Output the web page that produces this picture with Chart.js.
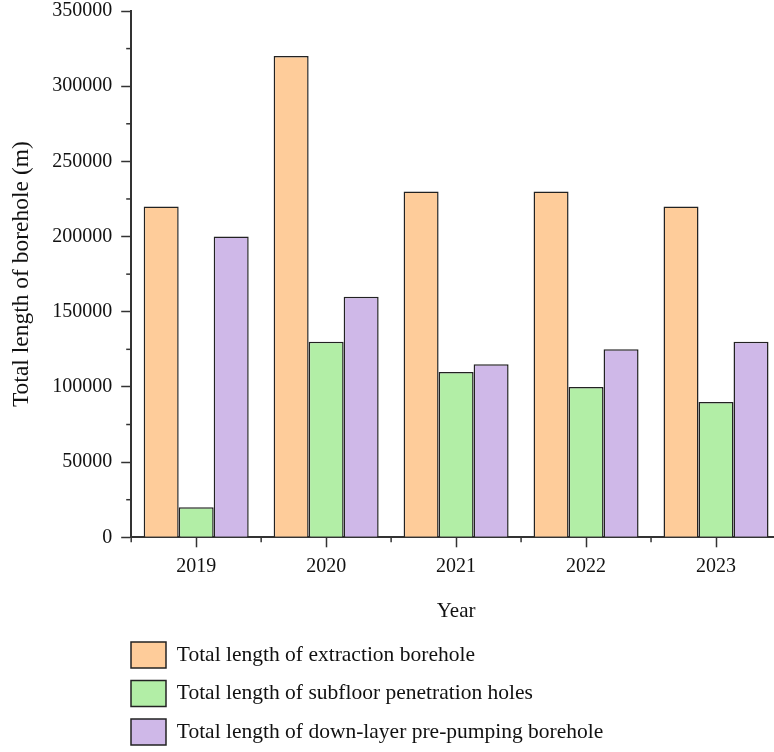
<!DOCTYPE html>
<html>
<head>
<meta charset="utf-8">
<script src="https://cdn.jsdelivr.net/npm/chart.js@4"></script>
<style>
  html, body { margin: 0; padding: 0; background: #fff; overflow: hidden; }
  #wrap { width: 790px; height: 762px; position: relative; top: -10px; }
</style>
</head>
<body>
<div id="wrap"><canvas id="c"></canvas></div>
<script>
const years = ['2019', '2020', '2021', '2022', '2023'];
const extraction = [220000, 320000, 230000, 230000, 220000];
const subfloor = [20000, 130000, 110000, 100000, 90000];
const downLayer = [200000, 160000, 115000, 125000, 130000];
const seriesNames = [
  'Total length of extraction borehole',
  'Total length of subfloor penetration holes',
  'Total length of down-layer pre-pumping borehole'
];
const yMin = 0, yMax = 350000, yMajorStep = 50000, yMinorStep = 25000;

const FONT = '"Liberation Serif", "DejaVu Serif", serif';
const AXIS = '#333';
const FS = 20;

const minorTicks = {
  id: 'minorTicks',
  afterLayout(chart) {
    const lg = chart.legend;
    if (lg) {
      const pad = lg.options.labels.padding;
      const dx = 131 - (lg.left + pad);
      lg.left += dx; lg.right += dx;
      lg.top += 3; lg.bottom += 3;
    }
  },
  afterDraw(chart) {
    const ctx = chart.ctx;
    const y = chart.scales.y, x = chart.scales.x;
    ctx.save();
    ctx.strokeStyle = AXIS;
    ctx.lineWidth = 1.5;
    for (let v = yMin + yMinorStep; v < yMax; v += yMajorStep) {
      const py = y.getPixelForValue(v);
      ctx.beginPath();
      ctx.moveTo(y.right - 5, py);
      ctx.lineTo(y.right, py);
      ctx.stroke();
    }
    for (let i = 0; i <= years.length; i++) {
      const px = x.getPixelForValue(i - 0.5);
      ctx.beginPath();
      ctx.moveTo(px, x.top);
      ctx.lineTo(px, x.top + 5);
      ctx.stroke();
    }
    ctx.restore();
  }
};

new Chart(document.getElementById('c'), {
  type: 'bar',
  data: {
    labels: years,
    datasets: [
      { label: seriesNames[0], data: extraction, backgroundColor: '#FECC9A' },
      { label: seriesNames[1], data: subfloor, backgroundColor: '#B2EEA6' },
      { label: seriesNames[2], data: downLayer, backgroundColor: '#CFB8E8' }
    ].map(d => Object.assign(d, { borderColor: '#222', borderWidth: 1.5, borderSkipped: 'bottom' }))
  },
  options: {
    responsive: true,
    maintainAspectRatio: false,
    animation: false,
    devicePixelRatio: 1,
    categoryPercentage: 0.808,
    barPercentage: 1.0,
    layout: { padding: { left: 4, right: 9, top: 0, bottom: 0 } },
    plugins: {
      tooltip: { enabled: false },
      legend: {
        position: 'bottom',
        align: 'start',
        fullSize: false,
        labels: {
          font: { family: FONT, size: 21.5 },
          color: '#111',
          boxWidth: 35,
          boxHeight: 26,
          padding: 12.5,
          useBorderRadius: false
        }
      }
    },
    scales: {
      x: {
        offset: true,
        grid: { display: true, drawOnChartArea: false, offset: false, tickLength: 10, tickColor: AXIS, tickWidth: 1.5 },
        border: { display: true, color: AXIS, width: 2 },
        ticks: { font: { family: FONT, size: FS }, color: '#111', padding: 7 },
        title: { display: true, text: 'Year', font: { family: FONT, size: 21 }, color: '#111', padding: { top: 14, bottom: 2 } }
      },
      y: {
        min: yMin, max: yMax,
        grid: { display: true, drawOnChartArea: false, tickLength: 10, tickColor: AXIS, tickWidth: 1.5 },
        border: { display: true, color: AXIS, width: 2 },
        ticks: { stepSize: yMajorStep, font: { family: FONT, size: FS }, color: '#111', padding: 9,
                 callback: v => String(v) },
        title: { display: true, text: 'Total length of borehole (m)', font: { family: FONT, size: 23.5 }, color: '#111', padding: { top: 4, bottom: 7 } }
      }
    }
  },
  plugins: [minorTicks]
});
</script>
</body>
</html>
